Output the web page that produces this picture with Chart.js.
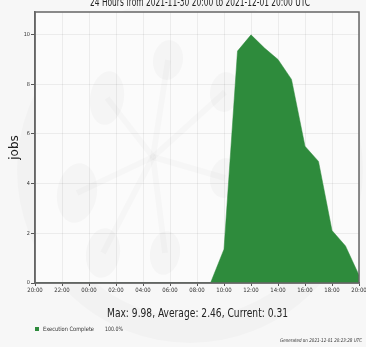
<!DOCTYPE html>
<html>
<head>
<meta charset="utf-8">
<script src="https://cdn.jsdelivr.net/npm/chart.js@4.4.0/dist/chart.umd.min.js"></script>
<style>
  html, body { margin: 0; padding: 0; background: #f7f7f7; }
  body { width: 366px; height: 347px; position: relative; overflow: hidden; }
  #jobsChart { position: absolute; left: 0; top: 0; }
  .txt {
    position: absolute; white-space: nowrap; transform-origin: 0 50%;
    font-family: 'DejaVu Sans Condensed', 'DejaVu Sans', sans-serif; font-stretch: condensed;
    color: #222;
  }
  #title { font-size: 12px; line-height: 12px; }
  #summary { font-size: 13px; line-height: 13px; }
  .legend { font-size: 6px; line-height: 6px; color: #333; }
  #swatch { position: absolute; left: 35px; top: 327px; width: 4px; height: 4px; background: #2e8b3c; }
  #footer { font-size: 5px; line-height: 5px; font-style: italic; color: #333; }
</style>
</head>
<body>
<canvas id="jobsChart" width="366" height="347"></canvas>
<div class="txt" id="title">24 Hours from 2021-11-30 20:00 to 2021-12-01 20:00 UTC</div>
<div class="txt" id="summary">Max: 9.98, Average: 2.46, Current: 0.31</div>
<div id="swatch"></div>
<div class="txt legend" id="legendName">Execution Complete</div>
<div class="txt legend" id="legendPct">100.0%</div>
<div class="txt" id="footer">Generated on 2021-12-01 20:23:28 UTC</div>
<script>
// hourly samples, 2021-11-30 20:00 -> 2021-12-01 20:00 UTC
const hours = ['20:00', '21:00', '22:00', '23:00', '00:00', '01:00', '02:00', '03:00', '04:00',
  '05:00', '06:00', '07:00', '08:00', '09:00', '10:00', '11:00', '12:00', '13:00', '14:00',
  '15:00', '16:00', '17:00', '18:00', '19:00', '20:00'];
const jobs = [0, 0, 0, 0, 0, 0, 0, 0, 0, 0, 0, 0, 0, 0,
  1.36, 9.33, 9.98, 9.45, 8.99, 8.19, 5.50, 4.89, 2.11, 1.49, 0.31];
const yTicks = [0, 2, 4, 6, 8, 10];

const green = '#2e8b3c';

// faint logo watermark + plot background, drawn under the data
const backdrop = {
  id: 'backdrop',
  beforeDraw(chart) {
    const ctx = chart.ctx;
    const a = chart.chartArea;
    ctx.save();
    ctx.strokeStyle = 'rgba(0,0,0,0.018)';
    ctx.lineWidth = 26;
    ctx.beginPath();
    ctx.arc(190, 170, 160, 0, Math.PI * 2);
    ctx.stroke();
    ctx.fillStyle = '#fbfbfb';
    ctx.fillRect(a.left, a.top, a.right - a.left, a.bottom - a.top);
    ctx.restore();
  },
  beforeDatasetsDraw(chart) {
    const ctx = chart.ctx;
    const a = chart.chartArea;
    ctx.save();
    ctx.beginPath();
    ctx.rect(a.left, a.top, a.right - a.left, a.bottom - a.top);
    ctx.clip();
    ctx.fillStyle = 'rgba(0,0,0,0.022)';
    ctx.strokeStyle = 'rgba(0,0,0,0.018)';
    ctx.lineWidth = 6;
    const cx = 153, cy = 157;
    const blobs = [[107, 98, 17, 27], [77, 193, 20, 30], [103, 253, 17, 25],
      [165, 253, 15, 22], [168, 60, 15, 20], [225, 92, 15, 20], [225, 178, 15, 20]];
    blobs.forEach(b => {
      ctx.beginPath();
      ctx.moveTo(cx, cy);
      ctx.lineTo(b[0], b[1]);
      ctx.stroke();
      ctx.beginPath();
      ctx.ellipse(b[0], b[1], b[2], b[3], 0.15, 0, Math.PI * 2);
      ctx.fill();
    });
    ctx.restore();
  },
  afterDraw(chart) {
    const ctx = chart.ctx;
    const a = chart.chartArea;
    ctx.save();
    ctx.strokeStyle = '#666';
    ctx.lineWidth = 1.5;
    ctx.strokeRect(a.left, a.top, a.right - a.left, a.bottom - a.top);
    ctx.restore();
  }
};

const tickFont = { family: "'DejaVu Sans Condensed', 'DejaVu Sans', sans-serif", size: 6 };

new Chart(document.getElementById('jobsChart'), {
  type: 'line',
  data: {
    labels: hours,
    datasets: [{
      label: 'Execution Complete',
      data: jobs,
      fill: 'origin',
      backgroundColor: green,
      borderColor: green,
      borderWidth: 0.5,
      pointRadius: 0,
      tension: 0
    }]
  },
  options: {
    responsive: false,
    animation: false,
    layout: { padding: { top: 12, right: 7, bottom: 47, left: 0 } },
    plugins: { legend: { display: false }, tooltip: { enabled: false } },
    scales: {
      x: {
        offset: false,
        afterFit(scale) { scale.height = 17; scale.paddingLeft = 0; scale.paddingRight = 0; },
        grid: {
          color: ctx => ctx.index % 2 ? 'transparent' : 'rgba(0,0,0,0.06)',
          tickColor: ctx => ctx.index % 2 ? 'transparent' : '#555',
          tickLength: 3
        },
        border: { color: '#666', width: 1.5 },
        ticks: {
          autoSkip: false, maxRotation: 0, padding: 1, color: '#333', font: tickFont,
          callback(val, i) { return i % 2 ? '' : this.getLabelForValue(val); }
        }
      },
      y: {
        min: 0,
        max: 10.9,
        afterFit(scale) { scale.width = 35; },
        afterBuildTicks(scale) { scale.ticks = yTicks.map(v => ({ value: v })); },
        grid: { color: 'rgba(0,0,0,0.06)', tickColor: '#555', tickLength: 4 },
        border: { color: '#666', width: 1.5 },
        ticks: { padding: 1, color: '#333', font: { family: tickFont.family, size: 5.5 } },
        title: {
          display: true, text: 'jobs', color: '#222',
          font: { family: "'DejaVu Sans'", size: 12 },
          padding: { top: 8, bottom: 0 }
        }
      }
    }
  },
  plugins: [backdrop]
});

// place text blocks, stretching each to the span it covers in the picture
function place(id, left, right, centerY) {
  const el = document.getElementById(id);
  const w = el.getBoundingClientRect().width;
  el.style.left = left + 'px';
  el.style.top = (centerY - el.offsetHeight / 2) + 'px';
  el.style.transform = 'scaleX(' + ((right - left) / w) + ')';
}
place('title', 90, 310, 1.5);
place('summary', 107, 288, 312);
place('legendName', 43, 94, 329);
place('legendPct', 105, 123, 329);
place('footer', 280, 362, 340);
</script>
</body>
</html>
